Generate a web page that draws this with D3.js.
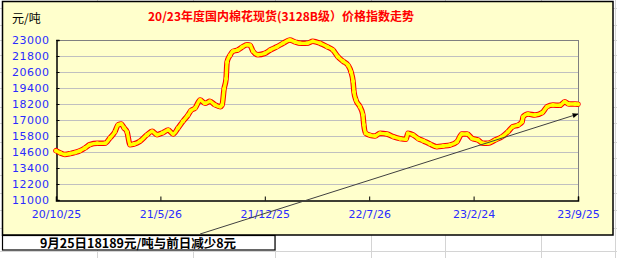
<!DOCTYPE html>
<html>
<head>
<meta charset="utf-8">
<script src="https://cdn.jsdelivr.net/npm/d3@7/dist/d3.min.js"></script>
<style>
  body { margin: 0; background: #fff; }
  svg { display: block; }
</style>
</head>
<body>
<svg id="chart" width="617" height="258"></svg>
<script>
// cotton spot price index (yuan/ton)
var dates = [
  "2020-10-25","2020-11-02","2020-11-12","2020-11-23","2020-12-03","2020-12-13","2020-12-23",
  "2021-01-02","2021-01-17","2021-02-02","2021-02-12","2021-02-22","2021-03-01","2021-03-07",
  "2021-03-13","2021-03-19","2021-03-25","2021-04-02","2021-04-14","2021-04-29","2021-05-09",
  "2021-05-19","2021-05-31","2021-06-11","2021-06-21","2021-07-01","2021-07-11","2021-07-21",
  "2021-07-27","2021-08-05","2021-08-15","2021-08-25","2021-09-04","2021-09-14","2021-09-25",
  "2021-09-29","2021-10-03","2021-10-07","2021-10-09","2021-10-15","2021-10-21","2021-10-31",
  "2021-11-08","2021-11-19","2021-11-25","2021-12-01","2021-12-11","2021-12-25","2022-01-05",
  "2022-01-19","2022-01-31","2022-02-14","2022-02-25","2022-03-07","2022-03-21","2022-04-02",
  "2022-04-17","2022-05-01","2022-05-13","2022-05-23","2022-06-03","2022-06-13","2022-06-19",
  "2022-06-23","2022-06-25","2022-06-29","2022-07-07","2022-07-13","2022-07-15","2022-07-19",
  "2022-07-28","2022-08-07","2022-08-17","2022-08-31","2022-09-13","2022-09-27","2022-10-09",
  "2022-10-13","2022-10-23","2022-11-03","2022-11-13","2022-11-27","2022-12-11","2022-12-24",
  "2023-01-07","2023-01-21","2023-01-31","2023-02-11","2023-02-21","2023-03-05","2023-03-15",
  "2023-03-25","2023-04-09","2023-04-23","2023-05-05","2023-05-15","2023-05-26","2023-06-03",
  "2023-06-05","2023-06-15","2023-06-29","2023-07-14","2023-07-24","2023-08-05","2023-08-19",
  "2023-08-29","2023-09-06","2023-09-19","2023-09-25"
];
var prices = [
  14700,14550,14420,14480,14570,14700,14900,
  15150,15250,15250,15650,16100,16650,16700,
  16400,16100,15150,15200,15400,15900,16150,
  15900,16050,16250,15950,16400,16900,17350,
  17700,17900,18500,18250,18400,18150,18000,
  18150,19350,20100,21350,21850,22150,22250,
  22450,22650,22600,22150,21900,22000,22250,
  22500,22750,23000,22850,22750,22750,22900,
  22750,22500,22250,21750,21400,21100,20600,
  19900,19100,18500,18000,17400,16650,16000,
  15850,15800,16000,15950,15750,15600,15550,
  16000,15900,15600,15450,15200,15000,15050,
  15120,15370,15950,15950,15620,15500,15250,
  15250,15500,15750,16120,16500,16620,16870,
  17250,17450,17370,17550,18000,18120,18100,
  18370,18200,18200,18189
];
var yTicks = [11000,12200,13400,14600,15800,17000,18200,19400,20600,21800,23000];
var xTickDates = ["2020-10-25","2021-05-26","2021-12-25","2022-07-26","2023-02-24","2023-09-25"];
var xTickLabels = ["20/10/25","21/5/26","21/12/25","22/7/26","23/2/24","23/9/25"];
// the drawn arrow, in chart terms
var arrowDates = ["2021-08-15","2023-09-25"];
var arrowValues = [8450, 17450];

var titleText = "20/23年度国内棉花现货(3128B级）价格指数走势";
var unitText = "元/吨";
var noteText = "9月25日18189元/吨与前日减少8元";

var parse = d3.timeParse("%Y-%m-%d");
var series = dates.map(function(d, i) { return { date: parse(d), value: prices[i] }; });

var svg = d3.select("#chart");
var W = 617, H = 258;
var plot = { left: 56, right: 578, top: 40, bottom: 200 };

// spreadsheet cells behind the chart
var colLines = [97, 193, 275, 371, 445, 541, 615];
var rowLines = [8, 25, 40, 55, 72, 88, 107, 123, 142, 158, 175, 193, 210, 228, 251];
var sheet = svg.append("g").attr("stroke", "#d4d4d4").attr("shape-rendering", "crispEdges");
colLines.forEach(function(x) {
  sheet.append("line").attr("x1", x + 0.5).attr("x2", x + 0.5).attr("y1", 0).attr("y2", H);
});
rowLines.forEach(function(y) {
  sheet.append("line").attr("x1", 0).attr("x2", W).attr("y1", y + 0.5).attr("y2", y + 0.5);
});

// chart frame
svg.append("rect")
  .attr("x", 2.5).attr("y", 1.5).attr("width", 610.5).attr("height", 233.5)
  .attr("fill", "#ffffcc").attr("stroke", "#000").attr("stroke-width", 1.5);

var x = d3.scaleTime()
  .domain([parse(xTickDates[0]), parse(xTickDates[xTickDates.length - 1])])
  .range([plot.left, plot.right]);
var y = d3.scaleLinear().domain([11000, 23000]).range([plot.bottom, plot.top]);

// grid lines
svg.append("g")
  .attr("shape-rendering", "crispEdges")
  .selectAll("line")
  .data(yTicks.slice(1, -1))
  .join("line")
  .attr("x1", plot.left).attr("x2", plot.right)
  .attr("y1", function(d) { return y(d) + 0.5; })
  .attr("y2", function(d) { return y(d) + 0.5; })
  .attr("stroke", "#c0c0c0");

// plot border, top and right in gray
svg.append("path")
  .attr("d", "M" + plot.left + "," + (plot.top + 0.5) + "H" + (plot.right + 0.5) + "V" + plot.bottom)
  .attr("fill", "none").attr("stroke", "#808080").attr("shape-rendering", "crispEdges");

// y axis
var yAxis = d3.axisLeft(y).tickValues(yTicks).tickSize(-3).tickPadding(7).tickFormat(d3.format("d"));
var gy = svg.append("g").attr("transform", "translate(" + (plot.left + 0.5) + ",0)").call(yAxis);
gy.select(".domain").attr("stroke", "#000").attr("stroke-width", 1.5);
gy.selectAll(".tick line").attr("stroke", "#000");
gy.selectAll(".tick text")
  .attr("fill", "#2b2bff")
  .attr("font-family", "DejaVu Sans")
  .attr("font-size", 11)
  .attr("letter-spacing", 0.5);

// x axis
var xAxis = d3.axisBottom(x)
  .tickValues(xTickDates.map(parse))
  .tickSize(-4).tickPadding(10)
  .tickFormat(function(d, i) { return xTickLabels[i]; });
var gx = svg.append("g").attr("transform", "translate(0," + (plot.bottom + 0.5) + ")").call(xAxis);
gx.select(".domain").attr("stroke", "#000").attr("stroke-width", 1.5);
gx.selectAll(".tick line").attr("stroke", "#000");
gx.selectAll(".tick text")
  .attr("fill", "#2b2bff")
  .attr("font-family", "DejaVu Sans")
  .attr("font-size", 11);

// price line: red band, yellow core, yellow dots
var line = d3.line()
  .x(function(d) { return x(d.date); })
  .y(function(d) { return y(d.value); })
  .curve(d3.curveMonotoneX);

svg.append("path").datum(series)
  .attr("d", line).attr("fill", "none")
  .attr("stroke", "#ff0000").attr("stroke-width", 5.5)
  .attr("stroke-linejoin", "round").attr("stroke-linecap", "round");
svg.append("path").datum(series)
  .attr("d", line).attr("fill", "none")
  .attr("stroke", "#ffff00").attr("stroke-width", 3.4)
  .attr("stroke-linejoin", "round").attr("stroke-linecap", "round");
svg.append("g").selectAll("circle")
  .data(series)
  .join("circle")
  .attr("cx", function(d) { return x(d.date); })
  .attr("cy", function(d) { return y(d.value); })
  .attr("r", 2)
  .attr("fill", "#ffff00");

// the arrow drawn over the chart
svg.append("defs").append("marker")
  .attr("id", "head")
  .attr("viewBox", "0 0 10 10")
  .attr("refX", 9).attr("refY", 5)
  .attr("markerWidth", 6).attr("markerHeight", 6)
  .attr("orient", "auto")
  .append("path").attr("d", "M0,1L10,5L0,9z").attr("fill", "#000");
svg.append("line")
  .attr("x1", x(parse(arrowDates[0]))).attr("y1", y(arrowValues[0]))
  .attr("x2", x(parse(arrowDates[1]))).attr("y2", y(arrowValues[1]))
  .attr("stroke", "#404040").attr("stroke-width", 1)
  .attr("marker-end", "url(#head)");

// unit and title
svg.append("text")
  .attr("x", 12).attr("y", 23)
  .attr("font-family", "Noto Sans CJK SC").attr("font-size", 12)
  .attr("fill", "#000")
  .text(unitText);
svg.append("text")
  .attr("x", 148).attr("y", 21)
  .attr("font-family", "Noto Sans CJK SC").attr("font-size", 12).attr("font-weight", "bold")
  .attr("fill", "#ff0000")
  .text(titleText);

// note box under the chart
svg.append("rect")
  .attr("x", 2.5).attr("y", 235.5).attr("width", 272.5).attr("height", 14.5)
  .attr("fill", "#fff").attr("stroke", "#000").attr("stroke-width", 1.2);
svg.append("text")
  .attr("x", 138).attr("y", 247.5)
  .attr("text-anchor", "middle")
  .attr("font-family", "Noto Sans CJK SC").attr("font-size", 12.5).attr("font-weight", "bold")
  .attr("fill", "#000")
  .text(noteText);
</script>
</body>
</html>
